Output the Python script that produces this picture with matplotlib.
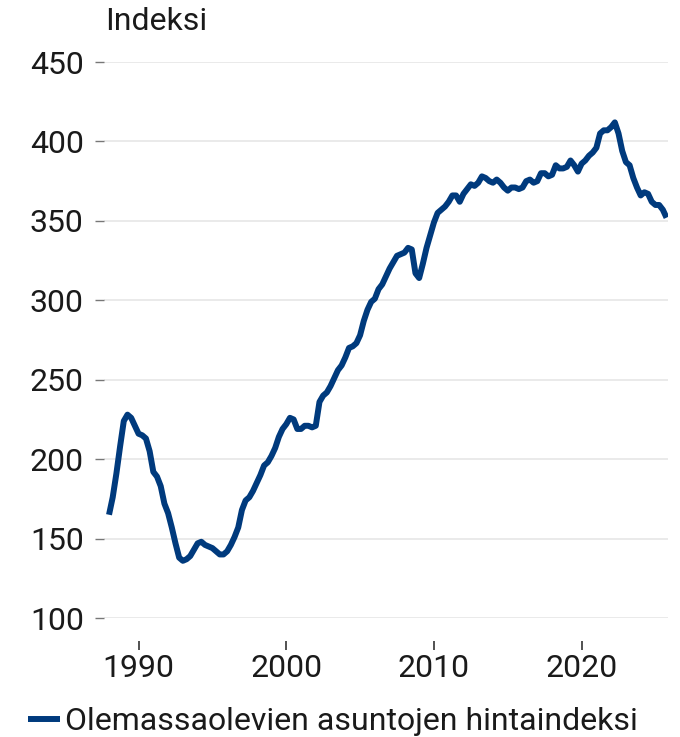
import matplotlib
matplotlib.use("Agg")
import matplotlib.pyplot as plt
import numpy as np

# Quarterly index values, 1988Q1 .. 2025Q4
START_YEAR = 1988
VALUES = [
    165, 176, 191, 208,   # 1988
    224, 228, 226, 221,   # 1989
    216, 215, 213, 205,   # 1990
    192, 189, 183, 172,   # 1991
    166, 157, 147, 138,   # 1992
    136, 137, 139, 143,   # 1993
    147, 148, 146, 145,   # 1994
    144, 142, 140, 140,   # 1995
    142, 146, 151, 157,   # 1996
    168, 174, 176, 180,   # 1997
    185, 190, 196, 198,   # 1998
    202, 207, 214, 219,   # 1999
    222, 226, 225, 219,   # 2000
    219, 221, 221, 220,   # 2001
    221, 236, 240, 242,   # 2002
    246, 251, 256, 259,   # 2003
    264, 270, 271, 273,   # 2004
    278, 287, 294, 299,   # 2005
    301, 307, 310, 315,   # 2006
    320, 324, 328, 329,   # 2007
    330, 333, 332, 317,   # 2008
    314, 323, 333, 341,   # 2009
    349, 355, 357, 359,   # 2010
    362, 366, 366, 362,   # 2011
    367, 370, 373, 372,   # 2012
    374, 378, 377, 375,   # 2013
    374, 376, 374, 371,   # 2014
    369, 371, 371, 370,   # 2015
    371, 375, 376, 374,   # 2016
    375, 380, 380, 378,   # 2017
    379, 385, 383, 383,   # 2018
    384, 388, 385, 381,   # 2019
    386, 388, 391, 393,   # 2020
    396, 405, 407, 407,   # 2021
    409, 412, 405, 394,   # 2022
    387, 385, 377, 371,   # 2023
    366, 368, 367, 362,   # 2024
    360, 360, 357, 352,   # 2025
]
Y_TICKS = [100, 150, 200, 250, 300, 350, 400, 450]
X_TICKS = [1990, 2000, 2010, 2020]
SERIES_LABEL = "Olemassaolevien asuntojen hintaindeksi"
Y_LABEL = "Indeksi"

LINE_COLOR = "#003a7d"
TEXT_COLOR = "#1a1a1a"
FONT_SIZE = 23

plt.rcParams["font.family"] = ["Roboto", "DejaVu Sans"]

x = START_YEAR + np.arange(len(VALUES)) / 4.0

fig = plt.figure(figsize=(6.8, 7.37), dpi=100)
ax = fig.add_axes([104 / 680, 119 / 737, 564 / 680, 556 / 737])

ax.plot(x, VALUES, color=LINE_COLOR, linewidth=4.3, solid_joinstyle="round",
        solid_capstyle="butt", label=SERIES_LABEL, zorder=3)

ax.set_xlim(1987.66, 2025.85)
ax.set_ylim(100, 450)
ax.set_yticks(Y_TICKS)
ax.set_xticks(X_TICKS)

ax.grid(axis="y", color="#e4e4e4", linewidth=1.1)
ax.set_axisbelow(True)
for side in ["top", "right", "left", "bottom"]:
    ax.spines[side].set_visible(False)
ax.spines["bottom"].set_position(("outward", 16.5))

ax.tick_params(axis="y", length=6.5, width=1.0, color="#777777", pad=8.0,
               labelsize=FONT_SIZE, labelcolor=TEXT_COLOR)
ax.tick_params(axis="x", length=6.5, width=1.2, color="#333333", pad=3.0,
               labelsize=FONT_SIZE, labelcolor=TEXT_COLOR)

fig.text(105 / 680, 1 - 22 / 737, Y_LABEL, ha="left", va="center",
         fontsize=FONT_SIZE, color=TEXT_COLOR)

fig.legend(loc="center left", bbox_to_anchor=(28 / 680, 15 / 737),
           frameon=False, fontsize=FONT_SIZE, handlelength=1.0,
           handletextpad=0.15, borderpad=0, borderaxespad=0,
           labelcolor=TEXT_COLOR)

fig.savefig("out.png", dpi=100)
